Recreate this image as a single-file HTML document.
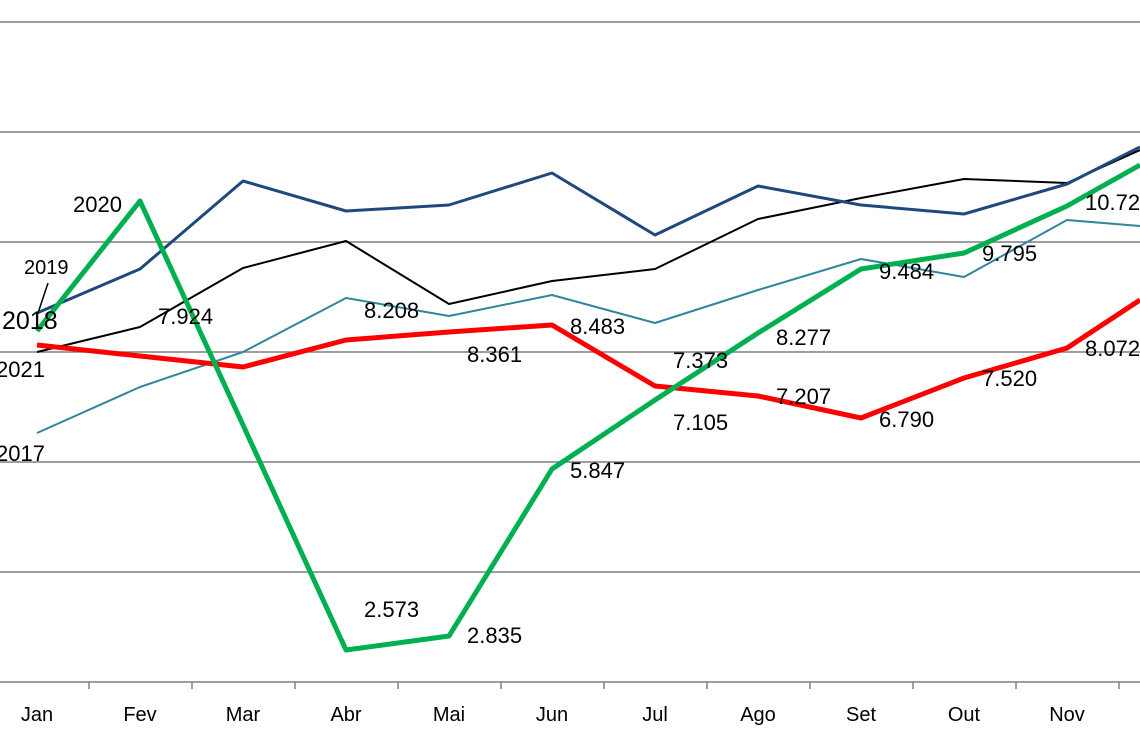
<!DOCTYPE html>
<html><head><meta charset="utf-8"><style>
html,body{margin:0;padding:0;background:#fff;}
svg{display:block;}
text{font-family:"Liberation Sans",sans-serif;fill:#000;}
</style></head><body>
<svg width="1140" height="742" viewBox="0 0 1140 742">
<g stroke="#7f7f7f" stroke-width="1.5">
<line x1="0" y1="22" x2="1140" y2="22"/>
<line x1="0" y1="132" x2="1140" y2="132"/>
<line x1="0" y1="242" x2="1140" y2="242"/>
<line x1="0" y1="352" x2="1140" y2="352"/>
<line x1="0" y1="462" x2="1140" y2="462"/>
<line x1="0" y1="572" x2="1140" y2="572"/>
<line x1="0" y1="682" x2="1140" y2="682"/>
<line x1="89" y1="682" x2="89" y2="689"/>
<line x1="192" y1="682" x2="192" y2="689"/>
<line x1="295" y1="682" x2="295" y2="689"/>
<line x1="398" y1="682" x2="398" y2="689"/>
<line x1="501" y1="682" x2="501" y2="689"/>
<line x1="604" y1="682" x2="604" y2="689"/>
<line x1="707" y1="682" x2="707" y2="689"/>
<line x1="810" y1="682" x2="810" y2="689"/>
<line x1="913" y1="682" x2="913" y2="689"/>
<line x1="1016" y1="682" x2="1016" y2="689"/>
<line x1="1119" y1="682" x2="1119" y2="689"/>
</g>
<g fill="none" stroke-linejoin="round">
<polyline stroke="#31859c" stroke-width="2" points="37,433 140,387 243,352 346,298 449,316 552,295 655,323 758,290 861,259 964,277 1067,220 1140,226"/>
<polyline stroke="#000" stroke-width="2" points="37,352 140,327 243,268 346,241 449,304 552,281 655,269 758,219 861,198 964,179 1067,183 1140,150"/>
<polyline stroke="#1f497d" stroke-width="3" points="37,313 140,269 243,181 346,211 449,205 552,173 655,235 758,186 861,205 964,214 1067,184 1140,147"/>
<polyline stroke="#ff0000" stroke-width="5" points="37,345 140,356 243,367 346,340 449,332 552,325 655,386 758,396 861,418 964,378 1067,348 1140,300"/>
<polyline stroke="#00b050" stroke-width="5" points="37,331 140,201 243,425 346,650 449,636 552,469 655,400 758,333 861,269 964,253 1067,206 1140,165"/>
</g>
<line x1="48" y1="283" x2="38" y2="313" stroke="#000" stroke-width="1.5"/>
<g font-size="22">
<text x="24" y="274" font-size="20">2019</text>
<text x="2" y="329" font-size="25">2018</text>
<text x="-4" y="377">2021</text>
<text x="-4" y="461">2017</text>
<text x="73" y="212">2020</text>
<text x="158" y="324">7.924</text>
<text x="364" y="318">8.208</text>
<text x="467" y="362">8.361</text>
<text x="570" y="334">8.483</text>
<text x="673" y="368">7.373</text>
<text x="776" y="345">8.277</text>
<text x="879" y="279">9.484</text>
<text x="982" y="261">9.795</text>
<text x="1085" y="210">10.72</text>
<text x="673" y="430">7.105</text>
<text x="776" y="404">7.207</text>
<text x="879" y="427">6.790</text>
<text x="982" y="386">7.520</text>
<text x="1085" y="356">8.072</text>
<text x="364" y="617">2.573</text>
<text x="467" y="643">2.835</text>
<text x="570" y="478">5.847</text>
</g>
<g font-size="20" text-anchor="middle">
<text x="37" y="721">Jan</text>
<text x="140" y="721">Fev</text>
<text x="243" y="721">Mar</text>
<text x="346" y="721">Abr</text>
<text x="449" y="721">Mai</text>
<text x="552" y="721">Jun</text>
<text x="655" y="721">Jul</text>
<text x="758" y="721">Ago</text>
<text x="861" y="721">Set</text>
<text x="964" y="721">Out</text>
<text x="1067" y="721">Nov</text>
</g>
</svg>
</body></html>
